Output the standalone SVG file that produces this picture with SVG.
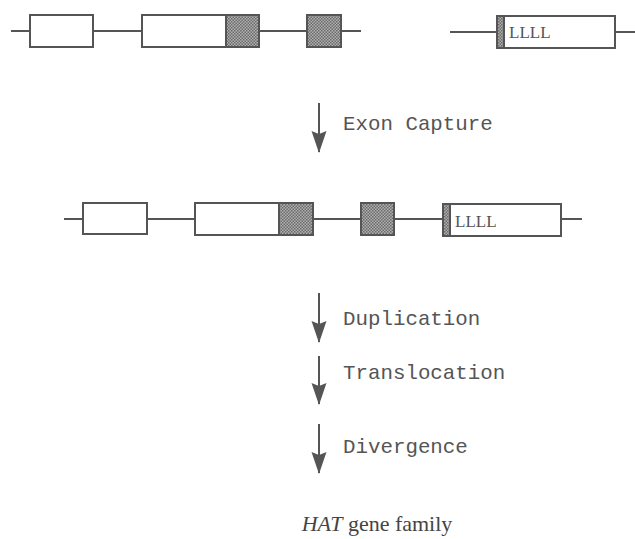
<svg xmlns="http://www.w3.org/2000/svg" width="635" height="539" viewBox="0 0 635 539">
<defs>
<pattern id="dots" width="3" height="3" patternUnits="userSpaceOnUse">
<rect width="3" height="3" fill="#b0b0b0"/>
<rect width="1.5" height="1.5" fill="#6a6a6a"/>
<rect x="1.5" y="1.5" width="1.5" height="1.5" fill="#6a6a6a"/>
</pattern>
<marker id="ah" markerUnits="userSpaceOnUse" markerWidth="22" markerHeight="16" refX="21" refY="8" orient="auto" viewBox="0 0 22 16">
<path d="M0,0.5 L3,8 L0,15.5 L22,8 Z" fill="#555"/>
</marker>
</defs>
<style>
.ln{stroke:#555;stroke-width:2;fill:none}
.ex{fill:#fff;stroke:#555;stroke-width:2}
.sh{fill:url(#dots);stroke:#555;stroke-width:2}
.ar{stroke:#555;stroke-width:2;fill:none;marker-end:url(#ah)}
.mono{font-family:"Liberation Mono","Courier New",monospace;font-size:20.8px;fill:#555}
.lbl{font-family:"Liberation Serif","Times New Roman",serif;font-size:17px;fill:#555}
.cap{font-family:"Liberation Serif","Times New Roman",serif;font-size:22px;fill:#444}
</style>
<g id="connectors">
<line class="ln" x1="11" y1="31" x2="361" y2="31"/>
<line class="ln" x1="450" y1="32" x2="635" y2="32"/>
<line class="ln" x1="64" y1="219" x2="582" y2="219"/>
<line class="ar" x1="319" y1="103" x2="319" y2="152"/>
<line class="ar" x1="319" y1="293" x2="319" y2="342"/>
<line class="ar" x1="319" y1="356" x2="319" y2="404"/>
<line class="ar" x1="319" y1="424" x2="319" y2="473"/>
</g>
<g id="gene-a">
<rect class="ex" x="30" y="15" width="63" height="32"/>
<rect class="ex" x="142" y="15" width="84" height="32"/>
<rect class="sh" x="226" y="15" width="33" height="32"/>
<rect class="sh" x="307" y="15" width="34" height="32"/>
</g>
<g id="gene-b">
<rect class="ex" x="497" y="16" width="118" height="32"/>
<rect class="sh" x="497" y="16" width="7" height="32"/>
<text class="lbl" x="509" y="38">LLLL</text>
</g>
<g id="gene-fused">
<rect class="ex" x="83" y="203" width="64" height="31"/>
<rect class="ex" x="195" y="203" width="84" height="32"/>
<rect class="sh" x="279" y="203" width="34" height="32"/>
<rect class="sh" x="361" y="203" width="33" height="32"/>
<rect class="ex" x="443" y="204" width="118" height="32"/>
<rect class="sh" x="443" y="204" width="7" height="32"/>
<text class="lbl" x="455" y="227">LLLL</text>
</g>
<g id="labels">
<text class="mono" x="343" y="130">Exon Capture</text>
<text class="mono" x="343" y="325">Duplication</text>
<text class="mono" x="343" y="379">Translocation</text>
<text class="mono" x="343" y="453">Divergence</text>
<text class="cap" x="377" y="531" text-anchor="middle"><tspan font-style="italic">HAT</tspan> gene family</text>
</g>
</svg>
